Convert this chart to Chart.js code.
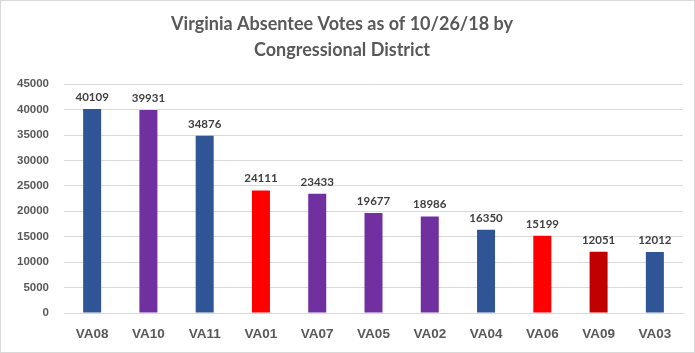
<!DOCTYPE html>
<html>
<head>
<meta charset="utf-8">
<script src="https://cdn.jsdelivr.net/npm/chart.js@4"></script>
<style>
  html, body { margin: 0; padding: 0; background: #fff; }
  #wrap { width: 695px; height: 353px; box-sizing: border-box; border: 1px solid #d9d9d9; position: relative; }
</style>
</head>
<body>
<div id="wrap"><canvas id="chart"></canvas></div>
<script>
// Datos
const districts = ['VA08', 'VA10', 'VA11', 'VA01', 'VA07', 'VA05', 'VA02', 'VA04', 'VA06', 'VA09', 'VA03'];
const votes = [40109, 39931, 34876, 24111, 23433, 19677, 18986, 16350, 15199, 12051, 12012];
const barColors = ['#2F5597', '#7030A0', '#2F5597', '#FF0000', '#7030A0', '#7030A0', '#7030A0', '#2F5597', '#FF0000', '#C00000', '#2F5597'];
const titleLines = ['Virginia Absentee Votes as of 10/26/18 by', 'Congressional District'];

// Etiquetas de valor encima de cada barra
const valueLabels = {
  id: 'valueLabels',
  afterDatasetsDraw(chart) {
    const ctx = chart.ctx;
    const meta = chart.getDatasetMeta(0);
    ctx.save();
    ctx.font = 'bold 11.5px Lato, "Open Sans", sans-serif';
    ctx.fillStyle = '#404040';
    ctx.textAlign = 'center';
    ctx.textBaseline = 'bottom';
    meta.data.forEach((bar, i) => {
      ctx.fillText(String(chart.data.datasets[0].data[i]), bar.x, bar.y - 6);
    });
    ctx.restore();
  }
};

new Chart(document.getElementById('chart'), {
  type: 'bar',
  data: {
    labels: districts,
    datasets: [{
      data: votes,
      backgroundColor: barColors,
      categoryPercentage: 1,
      barPercentage: 0.32
    }]
  },
  options: {
    responsive: true,
    maintainAspectRatio: false,
    animation: false,
    layout: { padding: { left: 0, right: 11, bottom: 0 } },
    plugins: {
      legend: { display: false },
      tooltip: { enabled: false },
      title: {
        display: true,
        text: titleLines,
        color: '#595959',
        font: { family: 'Lato, "Open Sans", sans-serif', size: 18, weight: 'bold', lineHeight: 1.45 },
        padding: { top: 10, bottom: 21 }
      }
    },
    scales: {
      x: {
        afterFit(scale) { scale.height = 39; },
        grid: { display: false },
        border: { color: '#d9d9d9' },
        ticks: {
          color: '#595959',
          padding: 5,
          font: { family: '"Liberation Sans", Arial, sans-serif', size: 13.5, weight: 'bold' }
        }
      },
      y: {
        min: 0,
        max: 45000,
        afterFit(scale) { scale.width = 63; },
        grid: { color: '#d9d9d9', drawTicks: false },
        border: { display: false },
        ticks: {
          stepSize: 5000,
          color: '#595959',
          padding: 15,
          callback: v => String(v),
          font: { family: '"Liberation Sans", Arial, sans-serif', size: 11.5, weight: 'bold' }
        }
      }
    }
  },
  plugins: [valueLabels]
});
</script>
</body>
</html>
